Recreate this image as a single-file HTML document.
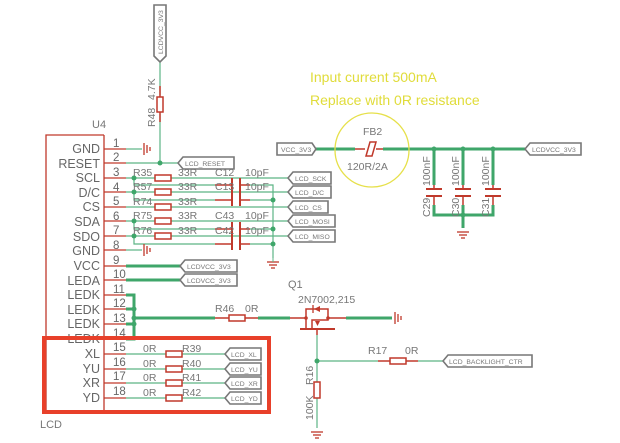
<!DOCTYPE html>
<html><head><meta charset="utf-8"><style>
html,body{margin:0;padding:0;background:#fff}
svg{display:block}
text{font-family:"Liberation Sans",sans-serif}
.pn{font-size:12.5px;fill:#666;text-anchor:end}
.num{font-size:11.5px;fill:#666}
.lb{font-size:10.5px;fill:#777}
.nl{font-size:6.8px;fill:#777}
</style></head><body>
<svg width="620" height="443" viewBox="0 0 620 443" xmlns="http://www.w3.org/2000/svg">
<defs>
<g id="gnd" stroke="#c0392b" stroke-width="1.3"><line x1="-6" y1="0" x2="6" y2="0"/><line x1="-4" y1="3" x2="4" y2="3"/><line x1="-2" y1="6" x2="2" y2="6"/></g>
<g id="gndh" stroke="#c0392b" stroke-width="1.3"><line x1="0" y1="-6" x2="0" y2="6"/><line x1="3" y1="-4" x2="3" y2="4"/><line x1="6" y1="-2" x2="6" y2="2"/></g>
</defs>
<g stroke="#c0392b" stroke-width="1.3" fill="none">
<polyline points="104,135 46,135 46,412"/>
<line x1="104" y1="135" x2="104" y2="412"/>
</g>
<text x="92" y="128" class="lb" style="font-size:11px">U4</text>
<text x="40" y="428" class="lb" style="font-size:11px">LCD</text>
<g>
<text x="100" y="153" class="pn">GND</text>
<text x="100" y="168" class="pn">RESET</text>
<text x="100" y="182" class="pn">SCL</text>
<text x="100" y="197" class="pn">D/C</text>
<text x="100" y="211" class="pn">CS</text>
<text x="100" y="226" class="pn">SDA</text>
<text x="100" y="241" class="pn">SDO</text>
<text x="100" y="255" class="pn">GND</text>
<text x="100" y="270" class="pn">VCC</text>
<text x="100" y="285" class="pn">LEDA</text>
<text x="100" y="299" class="pn">LEDK</text>
<text x="100" y="314" class="pn">LEDK</text>
<text x="100" y="328" class="pn">LEDK</text>
<text x="100" y="343" class="pn">LEDK</text>
<text x="100" y="358" class="pn">XL</text>
<text x="100" y="373" class="pn">YU</text>
<text x="100" y="387" class="pn">XR</text>
<text x="100" y="402" class="pn">YD</text>
</g>
<g>
<text x="113" y="147" class="num">1</text><text x="113" y="161" class="num">2</text><text x="113" y="176" class="num">3</text><text x="113" y="191" class="num">4</text><text x="113" y="205" class="num">5</text><text x="113" y="220" class="num">6</text><text x="113" y="234" class="num">7</text><text x="113" y="249" class="num">8</text><text x="113" y="264" class="num">9</text><text x="113" y="278" class="num">10</text><text x="113" y="293" class="num">11</text><text x="113" y="307" class="num">12</text><text x="113" y="322" class="num">13</text><text x="113" y="337" class="num">14</text><text x="113" y="351" class="num">15</text><text x="113" y="366" class="num">16</text><text x="113" y="380" class="num">17</text><text x="113" y="395" class="num">18</text>
</g>
<g stroke="#c0392b" stroke-width="1.2">
<line x1="104" y1="149" x2="126" y2="149"/><line x1="104" y1="163" x2="126" y2="163"/><line x1="104" y1="178" x2="126" y2="178"/><line x1="104" y1="192" x2="126" y2="192"/><line x1="104" y1="207" x2="126" y2="207"/><line x1="104" y1="221" x2="126" y2="221"/><line x1="104" y1="236" x2="126" y2="236"/><line x1="104" y1="250" x2="126" y2="250"/><line x1="104" y1="266" x2="126" y2="266"/><line x1="104" y1="280" x2="126" y2="280"/><line x1="104" y1="295" x2="126" y2="295"/><line x1="104" y1="309" x2="126" y2="309"/><line x1="104" y1="324" x2="126" y2="324"/><line x1="104" y1="338" x2="126" y2="338"/><line x1="104" y1="354" x2="126" y2="354"/><line x1="104" y1="369" x2="126" y2="369"/><line x1="104" y1="383" x2="126" y2="383"/><line x1="104" y1="398" x2="126" y2="398"/>
</g>
<g stroke="#5cb585" stroke-width="1.2" fill="none">
<line x1="126" y1="149" x2="142" y2="149"/>
<line x1="126" y1="163" x2="178" y2="163"/>
<line x1="160" y1="114" x2="160" y2="163"/>
<line x1="160" y1="62" x2="160" y2="95"/>
<line x1="126" y1="178" x2="155" y2="178"/><line x1="171" y1="178" x2="288" y2="178"/>
<line x1="126" y1="192" x2="155" y2="192"/><line x1="171" y1="192" x2="288" y2="192"/>
<line x1="126" y1="207" x2="155" y2="207"/><line x1="171" y1="207" x2="288" y2="207"/>
<line x1="126" y1="221" x2="155" y2="221"/><line x1="171" y1="221" x2="288" y2="221"/>
<line x1="126" y1="236" x2="155" y2="236"/><line x1="171" y1="236" x2="288" y2="236"/>
<line x1="126" y1="250" x2="142" y2="250"/>
<polyline points="134,178 134,185 215,185"/><polyline points="134,192 134,200 215,200"/>
<polyline points="134,221 134,229 215,229"/><polyline points="134,236 134,244 215,244"/>
<polyline points="250,185 273,185 273,258"/><line x1="250" y1="200" x2="273" y2="200"/>
<line x1="250" y1="229" x2="273" y2="229"/><line x1="250" y1="244" x2="273" y2="244"/>
<line x1="126" y1="354" x2="166" y2="354"/><line x1="182" y1="354" x2="225" y2="354"/>
<line x1="126" y1="369" x2="166" y2="369"/><line x1="182" y1="369" x2="225" y2="369"/>
<line x1="126" y1="383" x2="166" y2="383"/><line x1="182" y1="383" x2="225" y2="383"/>
<line x1="126" y1="398" x2="166" y2="398"/><line x1="182" y1="398" x2="225" y2="398"/>
<line x1="317" y1="335" x2="317" y2="382"/><line x1="317" y1="361" x2="378" y2="361"/><line x1="418" y1="361" x2="443" y2="361"/>
<line x1="317" y1="398" x2="317" y2="428"/>
</g>
<g fill="#3fa66a"><circle cx="160" cy="163" r="2.5"/><circle cx="134" cy="178" r="2.5"/><circle cx="134" cy="192" r="2.5"/><circle cx="134" cy="221" r="2.5"/><circle cx="134" cy="236" r="2.5"/><circle cx="273" cy="200" r="2.5"/><circle cx="273" cy="229" r="2.5"/><circle cx="273" cy="244" r="2.5"/><circle cx="134" cy="309" r="2.5"/><circle cx="134" cy="318" r="2.5"/><circle cx="134" cy="324" r="2.5"/><circle cx="317" cy="361" r="2.5"/><circle cx="434" cy="149" r="2.5"/><circle cx="463" cy="149" r="2.5"/><circle cx="493" cy="149" r="2.5"/><circle cx="463" cy="215" r="2.5"/></g>
<g stroke="#3fa66a" stroke-width="3" fill="none">
<line x1="126" y1="266" x2="180" y2="266"/><line x1="126" y1="280" x2="180" y2="280"/>
<polyline points="126,295 134,295 134,339 126,339"/><line x1="126" y1="309" x2="134" y2="309"/><line x1="126" y1="324" x2="134" y2="324"/>
<line x1="134" y1="318" x2="215" y2="318"/><line x1="258" y1="318" x2="290" y2="318"/>
<line x1="346" y1="318" x2="392" y2="318"/>
<line x1="316" y1="149" x2="355" y2="149"/><line x1="383" y1="149" x2="525" y2="149"/>
<line x1="434" y1="149" x2="434" y2="185"/><line x1="463" y1="149" x2="463" y2="185"/><line x1="493" y1="149" x2="493" y2="185"/>
<polyline points="434,205 434,215 493,215 493,205"/><line x1="463" y1="205" x2="463" y2="228"/>
</g>
<g stroke="#c0392b" stroke-width="1.5" fill="none">
<rect x="157" y="97" width="6" height="15"/>
<line x1="160" y1="86" x2="160" y2="97"/><line x1="160" y1="112" x2="160" y2="122"/>
<rect x="155" y="175" width="16" height="6"/><rect x="155" y="189" width="16" height="6"/><rect x="155" y="204" width="16" height="6"/><rect x="155" y="218" width="16" height="6"/><rect x="155" y="233" width="16" height="6"/>
<rect x="166" y="351" width="16" height="6"/><rect x="166" y="366" width="16" height="6"/><rect x="166" y="380" width="16" height="6"/><rect x="166" y="395" width="16" height="6"/>
<rect x="229" y="315" width="16" height="6"/><line x1="215" y1="318" x2="229" y2="318"/><line x1="245" y1="318" x2="258" y2="318"/>
<rect x="390" y="358" width="16" height="6"/><line x1="378" y1="361" x2="390" y2="361"/><line x1="406" y1="361" x2="418" y2="361"/>
<rect x="314" y="382" width="6" height="16"/>
<line x1="215" y1="185" x2="232" y2="185"/><line x1="215" y1="200" x2="232" y2="200"/>
<line x1="240" y1="185" x2="250" y2="185"/><line x1="240" y1="200" x2="250" y2="200"/>
<line x1="215" y1="229" x2="232" y2="229"/><line x1="215" y1="244" x2="232" y2="244"/>
<line x1="240" y1="229" x2="250" y2="229"/><line x1="240" y1="244" x2="250" y2="244"/>
<line x1="232" y1="178" x2="232" y2="206" stroke-width="2"/><line x1="240" y1="178" x2="240" y2="206" stroke-width="2"/>
<line x1="232" y1="222" x2="232" y2="250" stroke-width="2"/><line x1="240" y1="222" x2="240" y2="250" stroke-width="2"/>
<line x1="434" y1="185" x2="434" y2="189"/><line x1="426" y1="189" x2="442" y2="189" stroke-width="2"/><line x1="426" y1="196" x2="442" y2="196" stroke-width="2"/><line x1="434" y1="196" x2="434" y2="205"/>
<line x1="463" y1="185" x2="463" y2="189"/><line x1="455" y1="189" x2="471" y2="189" stroke-width="2"/><line x1="455" y1="196" x2="471" y2="196" stroke-width="2"/><line x1="463" y1="196" x2="463" y2="205"/>
<line x1="493" y1="185" x2="493" y2="189"/><line x1="485" y1="189" x2="501" y2="189" stroke-width="2"/><line x1="485" y1="196" x2="501" y2="196" stroke-width="2"/><line x1="493" y1="196" x2="493" y2="205"/>
<line x1="355" y1="149" x2="365" y2="149"/><line x1="376" y1="149" x2="383" y2="149"/>
<polygon points="366,156 370,142 376,142 372,156"/>
<line x1="290" y1="318" x2="306" y2="318"/><line x1="328" y1="318" x2="346" y2="318"/>
<polyline points="306,318 306,309 328,309 328,318"/>
<line x1="306" y1="318" x2="306" y2="328"/><polyline points="312,328 312,320 328,320 328,318"/>
<line x1="300" y1="329" x2="335" y2="329" stroke-width="2"/>
<line x1="317" y1="329" x2="317" y2="335"/>
</g>
<g fill="#c0392b"><polygon points="320,306 314,309 320,312"/><polygon points="315,321 320,321 317.5,326"/><circle cx="306" cy="318" r="1.8"/><circle cx="328" cy="318" r="1.8"/></g>
<line x1="313" y1="305" x2="313" y2="313" stroke="#c0392b" stroke-width="1.3"/>
<use href="#gndh" x="144" y="149"/><use href="#gndh" x="144" y="250"/><use href="#gndh" x="395" y="318"/>
<use href="#gnd" x="273" y="262"/><use href="#gnd" x="463" y="232"/><use href="#gnd" x="317" y="432"/>
<line x1="273" y1="258" x2="273" y2="262" stroke="#5cb585"/>
<rect x="44" y="338" width="225" height="74" fill="none" stroke="#e8402a" stroke-width="4"/>
<circle cx="372" cy="150" r="37" fill="none" stroke="#e6e04a" stroke-width="1.3"/>
<text x="310" y="82" style="font-size:14px;fill:#e0dc3a">Input current 500mA</text>
<text x="310" y="105" style="font-size:14px;fill:#e0dc3a">Replace with 0R resistance</text>
<g class="lb">
<text x="133" y="176">R35</text><text x="178" y="176">33R</text>
<text x="133" y="190">R57</text><text x="178" y="190">33R</text>
<text x="133" y="205">R74</text><text x="178" y="205">33R</text>
<text x="133" y="219">R75</text><text x="178" y="219">33R</text>
<text x="133" y="234">R76</text><text x="178" y="234">33R</text>
<text x="215" y="176">C12</text><text x="245" y="176">10pF</text>
<text x="215" y="190">C13</text><text x="245" y="190">10pF</text>
<text x="215" y="219">C43</text><text x="245" y="219">10pF</text>
<text x="215" y="234">C42</text><text x="245" y="234">10pF</text>
<text x="143" y="352">0R</text><text x="182" y="352">R39</text>
<text x="143" y="367">0R</text><text x="182" y="367">R40</text>
<text x="143" y="381">0R</text><text x="182" y="381">R41</text>
<text x="143" y="396">0R</text><text x="182" y="396">R42</text>
<text x="215" y="312">R46</text><text x="245" y="312">0R</text>
<text x="368" y="354">R17</text><text x="405" y="354">0R</text>
<text x="288" y="288" style="font-size:11px">Q1</text>
<text x="298" y="303">2N7002,215</text>
<text x="363" y="135">FB2</text>
<text x="347" y="170">120R/2A</text>
<text transform="translate(155,127) rotate(-90)">R48</text>
<text transform="translate(155,100) rotate(-90)">4.7K</text>
<text transform="translate(313,385) rotate(-90)">R16</text>
<text transform="translate(313,420) rotate(-90)">100K</text>
<text transform="translate(430,186) rotate(-90)">100nF</text>
<text transform="translate(459,186) rotate(-90)">100nF</text>
<text transform="translate(489,186) rotate(-90)">100nF</text>
<text transform="translate(430,217) rotate(-90)">C29</text>
<text transform="translate(459,217) rotate(-90)">C30</text>
<text transform="translate(489,217) rotate(-90)">C31</text>
</g>
<g fill="#fff" stroke="#777" stroke-width="1.6">
<polygon points="178,163 183,157 234,157 234,169 183,169"/>
<polygon points="288,178 293,172 331,172 331,184 293,184"/>
<polygon points="288,192 293,186 331,186 331,198 293,198"/>
<polygon points="288,207 293,201 328,201 328,213 293,213"/>
<polygon points="288,221 293,215 335,215 335,227 293,227"/>
<polygon points="288,236 293,230 335,230 335,242 293,242"/>
<polygon points="180,266 185,260 237,260 237,272 185,272"/>
<polygon points="180,280 185,274 237,274 237,286 185,286"/>
<polygon points="225,354 230,348 261,348 261,360 230,360"/>
<polygon points="225,369 230,363 261,363 261,375 230,375"/>
<polygon points="225,383 230,377 261,377 261,389 230,389"/>
<polygon points="225,398 230,392 261,392 261,404 230,404"/>
<polygon points="443,361 448,355 532,355 532,367 448,367"/>
<polygon points="277,143 312,143 316,149 312,155 277,155"/>
<polygon points="525,149 530,143 581,143 581,155 530,155"/>
<polygon points="154,5 166,5 166,56 160,62 154,56"/>
</g>
<g class="nl">
<text x="185" y="166">LCD_RESET</text>
<text x="295" y="181">LCD_SCK</text><text x="295" y="195">LCD_D/C</text><text x="295" y="210">LCD_CS</text>
<text x="295" y="224">LCD_MOSI</text><text x="295" y="239">LCD_MISO</text>
<text x="187" y="269">LCDVCC_3V3</text><text x="187" y="283">LCDVCC_3V3</text>
<text x="231" y="357">LCD_XL</text><text x="231" y="372">LCD_YU</text><text x="231" y="386">LCD_XR</text><text x="231" y="401">LCD_YD</text>
<text x="449" y="364">LCD_BACKLIGHT_CTR</text>
<text x="281" y="152">VCC_3V3</text>
<text x="532" y="152">LCDVCC_3V3</text>
<text transform="translate(163,54) rotate(-90)">LCDVCC_3V3</text>
</g>
</svg>
</body></html>
